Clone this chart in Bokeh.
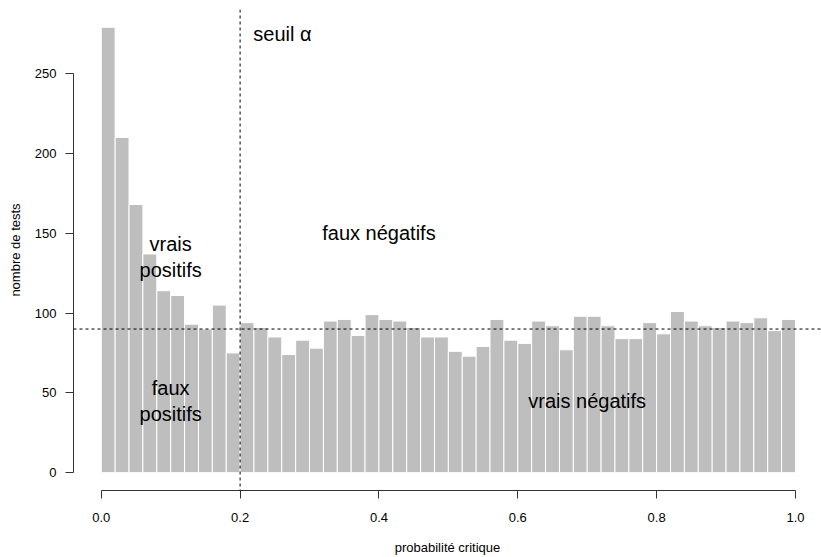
from bokeh.plotting import figure
from bokeh.models import ColumnDataSource, Span, FixedTicker, PrintfTickFormatter
from bokeh.core.properties import value
from bokeh.embed import file_html
from bokeh.resources import INLINE

# histogram of p-values: 50 bins of width 0.02 over [0, 1]
bin_left = [i * 0.02 for i in range(50)]
counts = [279, 210, 168, 137, 114, 111, 93, 90, 105, 75,
          94, 91, 85, 74, 83, 78, 95, 96, 86, 99,
          96, 95, 91, 85, 85, 76, 73, 79, 96, 83,
          81, 95, 92, 77, 98, 98, 92, 84, 84, 94,
          87, 101, 95, 92, 91, 95, 94, 97, 89, 96]
alpha = 0.2
h0_level = 90

x_ticks = [0.0, 0.2, 0.4, 0.6, 0.8, 1.0]
y_ticks = [0, 50, 100, 150, 200, 250]

ann_text = ["vrais\npositifs", "faux négatifs", "faux\npositifs", "vrais négatifs"]
ann_x = [0.1, 0.4, 0.1, 0.7]
ann_y = [135, 150, 45, 45]

FONT = "Liberation Sans"

p = figure(width=821, height=557, output_backend="svg", toolbar_location=None,
           x_range=(-0.04, 1.0375), y_range=(-11.16, 290.16),
           min_border_left=73, min_border_right=0, min_border_top=9, min_border_bottom=67)
p.outline_line_color = None
p.xgrid.visible = False
p.ygrid.visible = False
p.background_fill_color = "white"

src = ColumnDataSource(dict(left=bin_left, right=[b + 0.02 for b in bin_left],
                            top=counts, bottom=[0] * len(counts)))
p.quad(left="left", right="right", top="top", bottom="bottom", source=src,
       fill_color="#BEBEBE", line_color="white", line_width=1)

p.add_layout(Span(location=alpha, dimension="height", line_color="black",
                  line_dash="3 3", line_width=1))
p.add_layout(Span(location=h0_level, dimension="width", line_color="black",
                  line_dash="3 3", line_width=1))

asrc = ColumnDataSource(dict(x=ann_x, y=ann_y, t=ann_text))
p.text(x="x", y="y", text="t", source=asrc, text_align="center", text_baseline="middle",
       text_font=value(FONT), text_font_size="20px", text_color="black", text_line_height=1.2)
p.text(x=[alpha + 0.019], y=[275], text=["seuil α"], text_align="left", text_baseline="middle",
       text_font=value(FONT), text_font_size="20px", text_color="black")

for ax, ticks in ((p.xaxis[0], x_ticks), (p.yaxis[0], y_ticks)):
    ax.ticker = FixedTicker(ticks=ticks)
    ax.bounds = (ticks[0], ticks[-1])
    ax.major_tick_out = 8
    ax.major_tick_in = 0
    ax.minor_tick_out = 0
    ax.minor_tick_in = 0
    ax.axis_line_color = "#333333"
    ax.major_tick_line_color = "#333333"
    ax.major_label_text_font = FONT
    ax.major_label_text_font_size = "13px"
    ax.major_label_text_color = "black"
    ax.axis_label_text_font = FONT
    ax.axis_label_text_font_size = "13px"
    ax.axis_label_text_font_style = "normal"
    ax.axis_label_text_color = "black"

p.xaxis[0].formatter = PrintfTickFormatter(format="%.1f")
p.xaxis[0].axis_label = "probabilité critique"
p.xaxis[0].major_label_standoff = 14
p.xaxis[0].axis_label_standoff = 15
p.yaxis[0].axis_label = "nombre de tests"
p.yaxis[0].major_label_standoff = 9
p.yaxis[0].axis_label_standoff = 9
p.yaxis[0].major_label_orientation = "horizontal"

open("out.html", "w").write(file_html(p, INLINE))
